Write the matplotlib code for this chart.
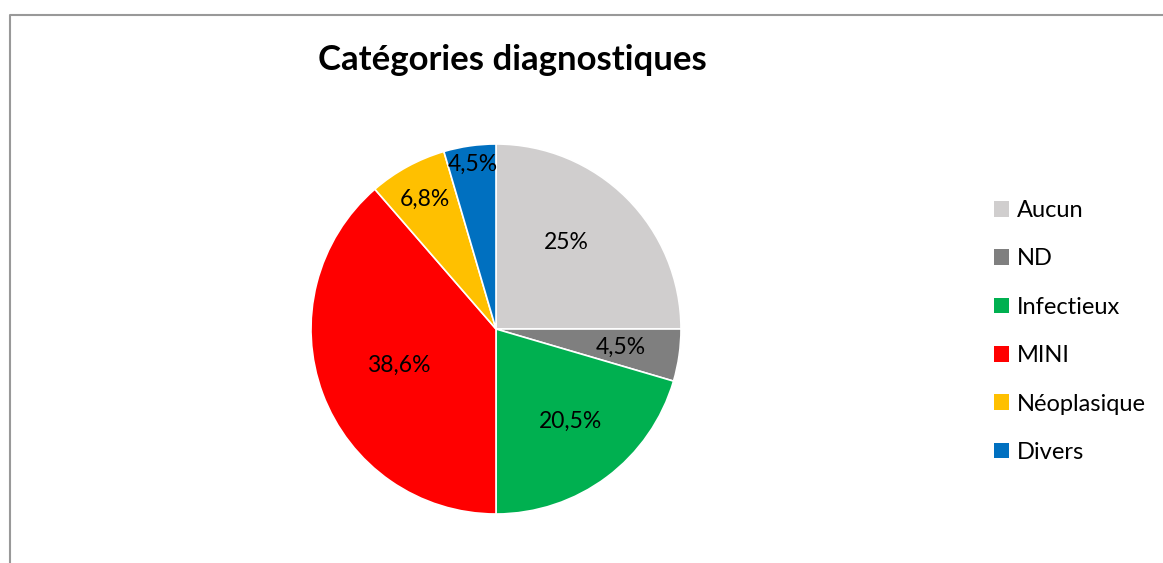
import numpy as np
import matplotlib.pyplot as plt
from matplotlib.lines import Line2D
from matplotlib.patches import Patch

plt.rcParams['font.family'] = ['Lato', 'DejaVu Sans']

# data : nombre de patients par catégorie (44 au total)
categories = ["Aucun", "ND", "Infectieux", "MINI", "Néoplasique", "Divers"]
counts = [11, 2, 9, 17, 3, 2]
colors = ["#D0CECE", "#7F7F7F", "#00B050", "#FF0000", "#FFC000", "#0070C0"]

W, H = 1163, 563
fig = plt.figure(figsize=(W / 100, H / 100), dpi=100)

# pie axes, centre (496, 329) px, rayon 185 px
cx, cy, r = 496, 329, 185
ax = fig.add_axes([(cx - r) / W, (H - cy - r) / H, 2 * r / W, 2 * r / H])

def fmt(p):
    s = "%.1f" % p
    if s.endswith(".0"):
        s = s[:-2]
    return s.replace(".", ",") + "%"

wedges, texts, autotexts = ax.pie(counts, colors=colors, startangle=90,
                                  counterclock=False, autopct=fmt,
                                  wedgeprops=dict(edgecolor="white", linewidth=1.2),
                                  textprops=dict(fontsize=16.5, color="black"))

# position des étiquettes (style Excel "ajustement optimal")
label_r = [0.60, 0.68, 0.64, 0.56, 0.80, 0.90]
label_da = [6, 0, 2, 0, 0, 0]
for w, t, lr, da in zip(wedges, autotexts, label_r, label_da):
    ang = np.deg2rad((w.theta1 + w.theta2) / 2 + da)
    t.set_position((lr * np.cos(ang), lr * np.sin(ang)))
    t.set_ha("center")
    t.set_va("center")

ax.set_xlim(-1, 1)
ax.set_ylim(-1, 1)
ax.set_aspect("equal")
ax.axis("off")

fig.text(512 / W, 1 - 60 / H, "Catégories diagnostiques", ha="center", va="center",
         fontsize=25, fontweight="bold")

handles = [Patch(facecolor=c, edgecolor="none") for c in colors]
fig.legend(handles, categories, loc="upper left",
           bbox_to_anchor=(994 / W, 1 - 200 / H), frameon=False, borderpad=0,
           borderaxespad=0, fontsize=17, handlelength=0.64, handleheight=0.64,
           handletextpad=0.34, labelspacing=1.16)

# cadre du graphique (haut et gauche seulement visibles)
fig.add_artist(Line2D([10 / W, 10 / W, 1], [0, 1 - 15 / H, 1 - 15 / H],
                      transform=fig.transFigure, color="#999999", lw=1.5))

fig.savefig("out.png", dpi=100)
